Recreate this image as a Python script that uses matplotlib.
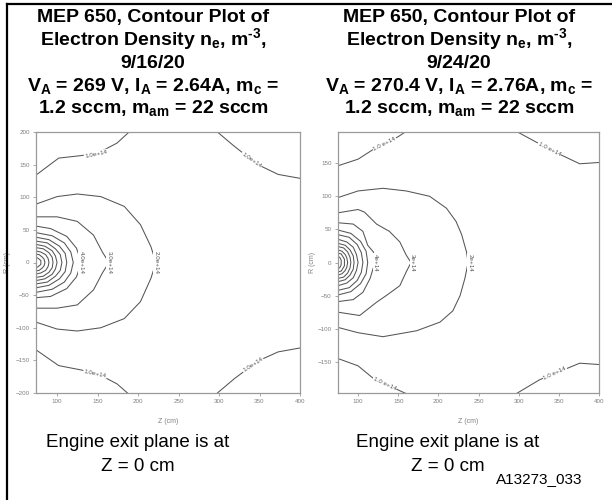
import matplotlib
matplotlib.use("Agg")
import matplotlib.pyplot as plt
from matplotlib.lines import Line2D

plt.rcParams['font.family'] = ['Liberation Sans', 'DejaVu Sans']
plt.rcParams['mathtext.fontset'] = 'custom'
plt.rcParams['mathtext.rm'] = 'Liberation Sans:bold'
plt.rcParams['mathtext.it'] = 'Liberation Sans:bold'
plt.rcParams['mathtext.bf'] = 'Liberation Sans:bold'

# ---------------- data ----------------
X_TICKS = [100, 150, 200, 250, 300, 350, 400]
L_Y_TICKS = [-200, -150, -100, -50, 0, 50, 100, 150, 200]
R_Y_TICKS = [-150, -100, -50, 0, 50, 100, 150]

LEFT_TITLE = ["MEP 650, Contour Plot of",
              "Electron Density n$_e$, m$^{\\text{-3}}$,",
              "9/16/20",
              "V$_A$ = 269 V, I$_A$ = 2.64A, m$_c$ =",
              "1.2 sccm, m$_{am}$ = 22 sccm"]
RIGHT_TITLE = ["MEP 650, Contour Plot of",
               "Electron Density n$_e$, m$^{\\text{-3}}$,",
               "9/24/20",
               "V$_A$ = 270.4 V, I$_A$ = 2.76A, m$_c$ =",
               "1.2 sccm, m$_{am}$ = 22 sccm"]

# Left plot (9/16/20) contour lines, Z (cm) and R (cm)
L_1E14_TL_Z = [73, 102, 131, 154, 174, 189]
L_1E14_TL_R = [133, 160, 164, 170, 183, 200]
L_1E14_TR_Z = [298, 319, 348, 373, 400]
L_1E14_TR_R = [200, 178, 150, 135, 129]
L_1E14_BL_Z = [73, 102, 131, 154, 174, 187]
L_1E14_BL_R = [-133, -158, -165, -173, -186, -200]
L_1E14_BR_Z = [298, 319, 348, 373, 400]
L_1E14_BR_R = [-200, -178, -151, -137, -131]
L_2E14_Z = [73, 100, 125, 154, 183, 203, 216, 222, 216, 203, 183, 154, 125, 100, 73]
L_2E14_R = [89, 101, 105, 101, 86, 58, 24, 0, -24, -60, -86, -100, -105, -102, -91]
L_3E14_Z = [73, 100, 125, 145, 156, 164, 156, 145, 125, 100, 73]
L_3E14_R = [70, 70, 63, 42, 16, 0, -16, -42, -65, -70, -70]
L_4E14_Z = [73, 92, 112, 124, 130, 124, 112, 92, 73]
L_4E14_R = [56, 52, 40, 22, 0, -22, -40, -52, -54]
L_RINGS_Z = [[73, 94, 109, 117, 120, 117, 109, 94, 73],
             [73, 90, 103, 110, 112, 110, 103, 90, 73],
             [73, 88, 98, 104, 106, 104, 98, 88, 73],
             [73, 85, 94, 98, 100, 98, 94, 85, 73],
             [73, 83, 90, 94, 95, 94, 90, 83, 73],
             [73, 80, 86, 89, 90, 89, 86, 80, 73],
             [73, 78, 82, 84, 85, 84, 82, 78, 73],
             [73, 76, 78, 80, 80, 80, 78, 76, 73]]
L_RINGS_R = [[46, 41, 30, 16, 0, -16, -30, -41, -46],
             [39, 35, 25, 14, 0, -14, -25, -35, -39],
             [33, 30, 21, 12, 0, -12, -21, -30, -33],
             [28, 25, 18, 10, 0, -10, -18, -25, -28],
             [23, 21, 15, 8, 0, -8, -15, -21, -23],
             [18, 16, 12, 6, 0, -6, -12, -16, -18],
             [13, 12, 8, 5, 0, -5, -8, -12, -13],
             [8, 7, 5, 3, 0, -3, -5, -7, -8]]
L_LABEL_TEXT = ["1.0e+14", "1.0e+14", "1.0e+14", "1.0e+14", "2.0e+14", "3.0e+14", "4.0e+14"]
L_LABEL_Z = [148, 340, 147, 342, 222, 164, 130]
L_LABEL_R = [166, 157, -170, -157, 0, 0, 0]
L_LABEL_ROT = [12, -35, -12, 33, -90, -90, -90]

# Right plot (9/24/20) contour lines
R_1E14_TL_Z = [75, 100, 118, 135, 150, 160]
R_1E14_TL_R = [146, 156, 170, 180, 190, 198]
R_1E14_TR_Z = [297, 326, 350, 376, 400]
R_1E14_TR_R = [198, 179, 164, 149, 151]
R_1E14_BL_Z = [75, 100, 123, 142, 160]
R_1E14_BL_R = [-145, -156, -179, -188, -198]
R_1E14_BR_Z = [297, 326, 376, 400]
R_1E14_BR_R = [-198, -177, -152, -154]
R_2E14_Z = [75, 100, 131, 160, 189, 210, 222, 229, 235, 237, 233, 227, 218, 202, 173, 131, 100, 75]
R_2E14_R = [98, 108, 112, 108, 100, 82, 62, 42, 16, 0, -24, -50, -73, -90, -103, -112, -106, -98]
R_3E14_Z = [75, 100, 108, 123, 139, 152, 160, 166, 160, 152, 135, 123, 102, 75]
R_3E14_R = [75, 80, 76, 58, 47, 31, 11, 0, -14, -35, -50, -60, -80, -75]
R_4E14_Z = [75, 94, 106, 112, 119, 121, 115, 106, 94, 75]
R_4E14_R = [60, 58, 47, 26, 16, 0, -24, -45, -56, -59]
R_RINGS_Z = [[75, 91, 103, 110, 112, 110, 103, 91, 75],
             [75, 89, 99, 104, 106, 104, 99, 89, 75],
             [75, 86, 94, 98, 100, 98, 94, 86, 75],
             [75, 84, 90, 94, 95, 94, 90, 84, 75],
             [75, 82, 87, 90, 91, 90, 87, 82, 75],
             [75, 80, 84, 86, 87, 86, 84, 80, 75],
             [75, 79, 81, 83, 83, 83, 81, 79, 75],
             [75, 77, 78, 79, 79, 79, 78, 77, 75]]
R_RINGS_R = [[49, 44, 32, 17, 0, -17, -32, -44, -49],
             [42, 38, 27, 15, 0, -15, -27, -38, -42],
             [35, 31, 23, 12, 0, -12, -23, -31, -35],
             [29, 26, 19, 10, 0, -10, -19, -26, -29],
             [24, 22, 16, 8, 0, -8, -16, -22, -24],
             [19, 17, 12, 7, 0, -7, -12, -17, -19],
             [14, 13, 9, 5, 0, -5, -9, -13, -14],
             [9, 8, 6, 3, 0, -3, -6, -8, -9]]
R_LABEL_TEXT = ["1.0 e+14", "1.0 e+14", "1.0 e+14", "1.0 e+14", "2e+14", "3e+14", "4e+14"]
R_LABEL_Z = [133, 338, 133, 345, 239, 168, 122]
R_LABEL_R = [179, 171, -183, -167, 0, 0, 0]
R_LABEL_ROT = [27, -27, -25, 25, -90, -90, -90]

CAPTION = ["Engine exit plane is at", "Z = 0 cm"]
FIG_ID = "A13273_033"

# ---------------- drawing ----------------
W, H = 612, 500
fig = plt.figure(figsize=(W / 100, H / 100), dpi=100)
fig.patch.set_facecolor('white')

LINE_C = '#555555'


def px_axes(x0, x1, y0, y1):
    return fig.add_axes([x0 / W, 1 - y1 / H, (x1 - x0) / W, (y1 - y0) / H])


def setup(ax, xlim, ylim, yticks, ylab_x):
    ax.set_xlim(*xlim)
    ax.set_ylim(*ylim)
    ax.set_xticks(X_TICKS)
    ax.set_yticks(yticks)
    ax.tick_params(direction='out', length=2.5, width=0.6, color='#999',
                   labelsize=4.5, labelcolor='#808080', pad=2)
    for s in ax.spines.values():
        s.set_color('#9a9a9a')
        s.set_linewidth(0.9)
    ax.set_xlabel('Z (cm)', fontsize=5, color='#808080')
    ax.set_ylabel('R (cm)', fontsize=5, color='#808080')
    ax.xaxis.set_label_coords(0.5, -0.095)
    ax.yaxis.set_label_coords(ylab_x, 0.5)


def draw(ax, lines, rings_z, rings_r, lab_t, lab_z, lab_r, lab_rot):
    for z, r in lines:
        ax.plot(z, r, color=LINE_C, lw=0.75)
    for z, r in zip(rings_z, rings_r):
        ax.plot(z, r, color=LINE_C, lw=0.75)
    for t, z, r, rot in zip(lab_t, lab_z, lab_r, lab_rot):
        ax.text(z, r, t, rotation=rot, rotation_mode='anchor', ha='center', va='center',
                fontsize=4.5, color='#555555', zorder=4,
                bbox=dict(fc='white', ec='none', pad=0.4))


axL = px_axes(36, 300, 132, 393)
setup(axL, (74, 400), (-200, 200), L_Y_TICKS, -0.095)
draw(axL,
     [(L_1E14_TL_Z, L_1E14_TL_R), (L_1E14_TR_Z, L_1E14_TR_R),
      (L_1E14_BL_Z, L_1E14_BL_R), (L_1E14_BR_Z, L_1E14_BR_R),
      (L_2E14_Z, L_2E14_R), (L_3E14_Z, L_3E14_R), (L_4E14_Z, L_4E14_R)],
     L_RINGS_Z, L_RINGS_R, L_LABEL_TEXT, L_LABEL_Z, L_LABEL_R, L_LABEL_ROT)

axR = px_axes(338, 599, 132, 393)
setup(axR, (75, 400), (-197, 197), R_Y_TICKS, -0.085)
draw(axR,
     [(R_1E14_TL_Z, R_1E14_TL_R), (R_1E14_TR_Z, R_1E14_TR_R),
      (R_1E14_BL_Z, R_1E14_BL_R), (R_1E14_BR_Z, R_1E14_BR_R),
      (R_2E14_Z, R_2E14_R), (R_3E14_Z, R_3E14_R), (R_4E14_Z, R_4E14_R)],
     R_RINGS_Z, R_RINGS_R, R_LABEL_TEXT, R_LABEL_Z, R_LABEL_R, R_LABEL_ROT)

# titles
baselines = [22, 45, 68, 90.5, 113]
for lines, cx in ((LEFT_TITLE, 153), (RIGHT_TITLE, 459)):
    for txt, yb in zip(lines, baselines):
        fig.text(cx / W, 1 - yb / H, txt, ha='center', va='baseline',
                 fontsize=14, fontweight='bold', color='black')

# captions
for cx in (138, 448):
    fig.text(cx / W, 1 - 447 / H, CAPTION[0], ha='center', va='baseline', fontsize=13.5)
    fig.text(cx / W, 1 - 471 / H, CAPTION[1], ha='center', va='baseline', fontsize=13.5)
fig.text(582 / W, 1 - 483 / H, FIG_ID, ha='right', va='baseline', fontsize=11)

# frame (left and top edges visible)
fig.add_artist(Line2D([7 / W, 7 / W], [0, 1 - 4 / H], color='black', lw=1.6,
                      transform=fig.transFigure))
fig.add_artist(Line2D([7 / W, 1], [1 - 4 / H, 1 - 4 / H], color='black', lw=1.6,
                      transform=fig.transFigure))

fig.savefig('out.png', dpi=100, facecolor='white')
